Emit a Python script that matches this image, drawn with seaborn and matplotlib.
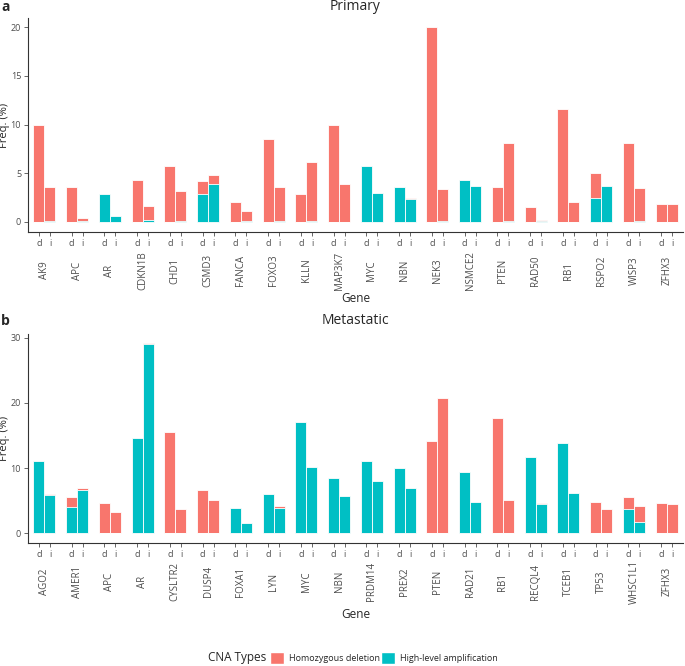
import numpy as np
import pandas as pd
import matplotlib
matplotlib.use('Agg')
import matplotlib.pyplot as plt
import matplotlib.patches as mpatches
import seaborn as sns

# Primary: deletion / amplification frequency (%) for d and i
primary_genes = ['AK9', 'APC', 'AR', 'CDKN1B', 'CHD1', 'CSMD3', 'FANCA', 'FOXO3', 'KLLN', 'MAP3K7',
                 'MYC', 'NBN', 'NEK3', 'NSMCE2', 'PTEN', 'RAD50', 'RB1', 'RSPO2', 'WISP3', 'ZFHX3']
primary_del_d = [10.0, 3.6, 0, 4.3, 5.7, 1.4, 2.1, 8.5, 2.85, 10.0,
                 0, 0, 20.0, 0, 3.6, 1.5, 11.6, 2.5, 8.1, 1.8]
primary_amp_d = [0, 0, 2.9, 0, 0, 2.85, 0, 0, 0, 0,
                 5.8, 3.6, 0, 4.3, 0, 0, 0, 2.5, 0, 0]
primary_del_i = [3.45, 0.3, 0, 1.4, 3.05, 0.85, 1.0, 3.45, 6.0, 3.95,
                 0.07, 0.14, 3.27, 0, 7.95, 0.07, 2.1, 0, 3.35, 1.8]
primary_amp_i = [0.15, 0.1, 0.6, 0.25, 0.15, 3.95, 0.12, 0.15, 0.15, 0,
                 2.93, 2.33, 0.15, 3.65, 0.15, 0.13, 0, 3.7, 0.15, 0]

# Metastatic
meta_genes = ['AGO2', 'AMER1', 'APC', 'AR', 'CYSLTR2', 'DUSP4', 'FOXA1', 'LYN', 'MYC', 'NBN',
              'PRDM14', 'PREX2', 'PTEN', 'RAD21', 'RB1', 'RECQL4', 'TCEB1', 'TP53', 'WHSC1L1', 'ZFHX3']
meta_del_d = [0, 1.4, 4.7, 0, 15.6, 6.7, 0, 0, 0, 0,
              0, 0, 14.1, 0, 17.7, 0, 0, 4.75, 1.85, 4.7]
meta_amp_d = [11.1, 4.1, 0, 14.6, 0, 0, 3.9, 6.0, 17.1, 8.5,
              11.1, 10.0, 0, 9.35, 0, 11.7, 13.9, 0, 3.7, 0]
meta_del_i = [0.2, 0.2, 3.2, 0.15, 3.7, 5.15, 0, 0.3, 0, 0,
              0, 0, 20.8, 0, 5.15, 0.15, 0, 3.8, 2.4, 4.5]
meta_amp_i = [5.8, 6.7, 0, 29.0, 0, 0, 1.65, 3.9, 10.2, 5.65,
              7.95, 6.95, 0, 4.8, 0, 4.55, 6.2, 0, 1.8, 0]

RED = '#F8766D'
TEAL = '#00BFC4'
GREY = '#4d4d4d'
W, H = 685, 666

sns.set_theme(style='ticks')
plt.rcParams['font.family'] = ['Open Sans', 'DejaVu Sans']


def make_df(genes, del_d, amp_d, del_i, amp_i):
    rows = []
    for g, dd, ad, di, ai in zip(genes, del_d, amp_d, del_i, amp_i):
        rows.append({'gene': g, 'type': 'd', 'amp': ad, 'total': dd + ad})
        rows.append({'gene': g, 'type': 'i', 'amp': ai, 'total': di + ai})
    return pd.DataFrame(rows)


def draw_panel(ax, df, genes, yticks):
    common = dict(data=df, x='gene', hue='type', order=genes, hue_order=['d', 'i'],
                  width=0.68, gap=0.02, errorbar=None, edgecolor='#ffffff', linewidth=0.6,
                  legend=False, ax=ax, saturation=1)
    sns.barplot(y='total', palette={'d': RED, 'i': RED}, **common)
    sns.barplot(y='amp', palette={'d': TEAL, 'i': TEAL}, **common)
    top = df['total'].max()
    ax.set_ylim(-0.05 * top, 1.05 * top)
    ax.set_xlim(-0.5, len(genes) - 0.5)
    off = 0.17
    pos = [i + s for i in range(len(genes)) for s in (-off, off)]
    ax.set_xticks(pos)
    ax.set_xticklabels(['d', 'i'] * len(genes))
    ax.set_yticks(yticks)
    ax.tick_params(axis='both', labelsize=6.5, colors=GREY, length=3, width=0.6, pad=2)
    for s in ['left', 'bottom']:
        ax.spines[s].set_color('#333333')
        ax.spines[s].set_linewidth(0.8)
    sns.despine(ax=ax)
    ax.set_xlabel('')
    ax.set_ylabel('')
    for i, g in enumerate(genes):
        ax.annotate(g, xy=(i, 0), xycoords=('data', 'axes fraction'), xytext=(0, -28),
                    textcoords='offset points', rotation=90, ha='center', va='center',
                    fontsize=7, color=GREY)


fig = plt.figure(figsize=(W / 100, H / 100), dpi=100)
axa = fig.add_axes([28 / W, 1 - 231.7 / H, 655 / W, 214.1 / H])
axb = fig.add_axes([28 / W, 1 - 542.8 / H, 655 / W, 209.1 / H])

df_p = make_df(primary_genes, primary_del_d, primary_amp_d, primary_del_i, primary_amp_i)
df_m = make_df(meta_genes, meta_del_d, meta_amp_d, meta_del_i, meta_amp_i)
draw_panel(axa, df_p, primary_genes, [0, 5, 10, 15, 20])
draw_panel(axb, df_m, meta_genes, [0, 10, 20, 30])

# titles, labels
fig.text(355.5 / W, 1 - 7 / H, 'Primary', ha='center', va='center', fontsize=10)
fig.text(355.5 / W, 1 - 321 / H, 'Metastatic', ha='center', va='center', fontsize=10)
fig.text(1 / W, 1 - 7 / H, 'a', ha='left', va='center', fontsize=10, fontweight='bold')
fig.text(1 / W, 1 - 321 / H, 'b', ha='left', va='center', fontsize=10, fontweight='bold')
fig.text(5 / W, 1 - 125 / H, 'Freq. (%)', rotation=90, ha='center', va='center', fontsize=8)
fig.text(5 / W, 1 - 438 / H, 'Freq. (%)', rotation=90, ha='center', va='center', fontsize=8)
fig.text(355.5 / W, 1 - 298 / H, 'Gene', ha='center', va='center', fontsize=8.5)
fig.text(355.5 / W, 1 - 615 / H, 'Gene', ha='center', va='center', fontsize=8.5)

# legend
fig.text(208 / W, 1 - 658 / H, 'CNA Types', ha='left', va='center', fontsize=8.5)
handles = [mpatches.Patch(facecolor=RED, edgecolor='white'),
           mpatches.Patch(facecolor=TEAL, edgecolor='white')]
fig.legend(handles, ['Homozygous deletion', 'High-level amplification'],
           loc='center left', bbox_to_anchor=(270 / W, 1 - 658 / H), ncol=2, frameon=False,
           fontsize=6.5, handlelength=1.6, handleheight=1.8, handletextpad=0.5,
           columnspacing=0.1, borderaxespad=0, borderpad=0)

fig.savefig('out.png', dpi=100)
